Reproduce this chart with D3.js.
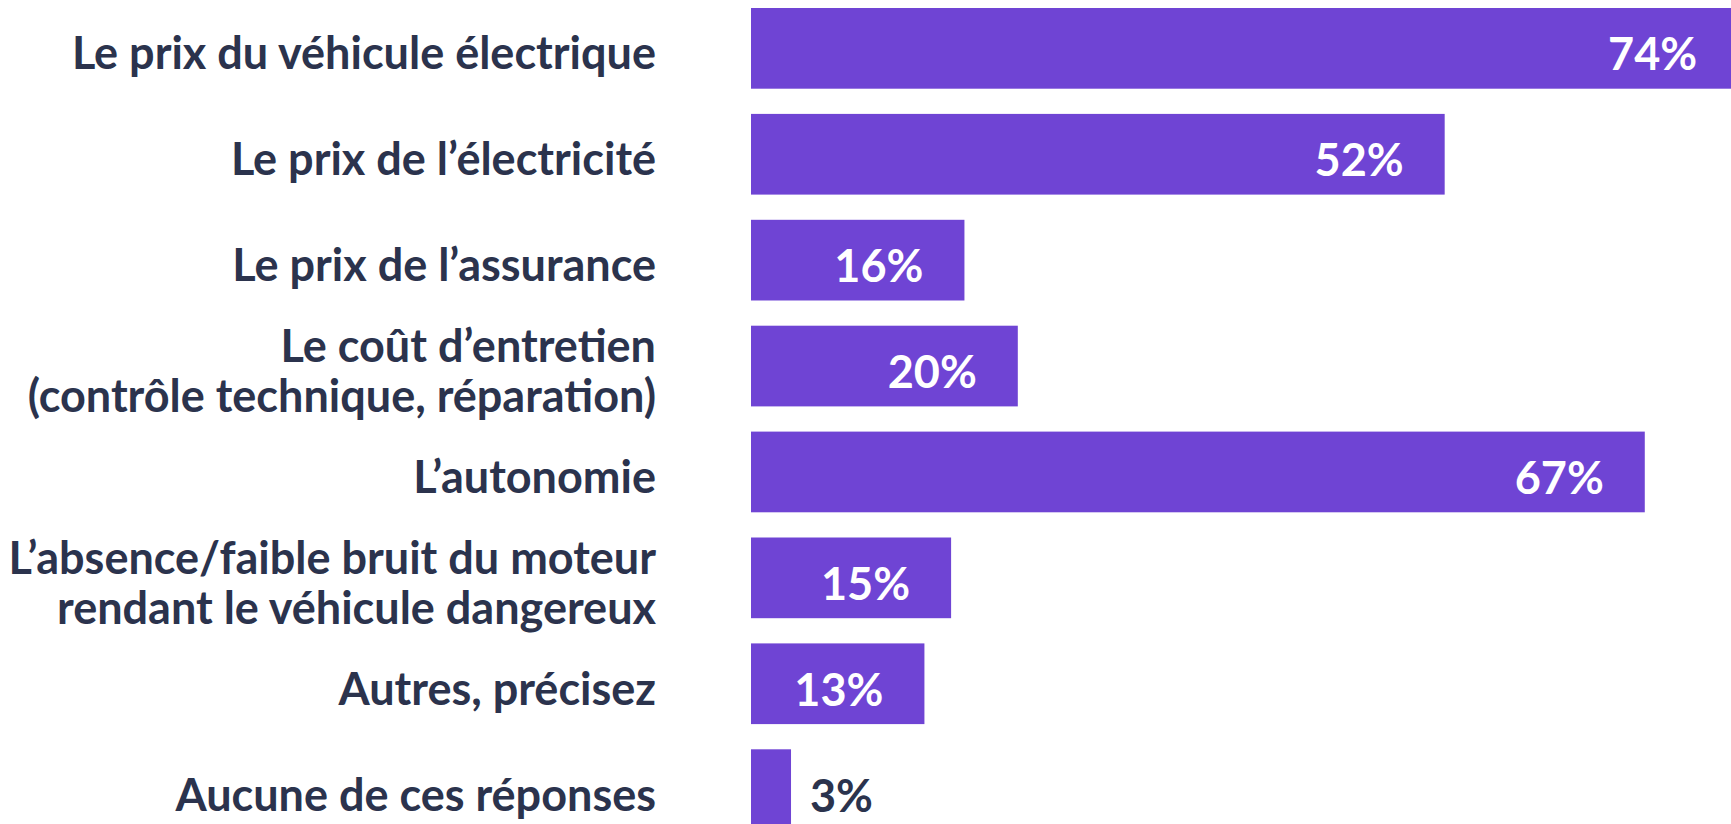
<!DOCTYPE html>
<html>
<head>
<meta charset="utf-8">
<script src="https://cdn.jsdelivr.net/npm/d3@7"></script>
<style>
  html, body { margin: 0; padding: 0; background: #fff; }
  svg { display: block; }
</style>
</head>
<body>
<svg id="chart" width="1731" height="824"></svg>
<script>
const categories = [
  ["Le prix du véhicule électrique"],
  ["Le prix de l’électricité"],
  ["Le prix de l’assurance"],
  ["Le coût d’entretien", "(contrôle technique, réparation)"],
  ["L’autonomie"],
  ["L’absence/faible bruit du moteur", "rendant le véhicule dangereux"],
  ["Autres, précisez"],
  ["Aucune de ces réponses"]
];
const values = [74, 52, 16, 20, 67, 15, 13, 3];

const barColor = "#6f44d4";
const textColor = "#2b334d";
const font = "Lato, 'Open Sans', sans-serif";

const svg = d3.select("#chart");

const data = values.map((v, i) => ({ key: i, lines: categories[i], value: v }));

const x = d3.scaleLinear()
  .domain([0, 100])
  .range([751, 2085]);

const y = d3.scaleBand()
  .domain(data.map(d => d.key))
  .range([-4.6, 842.6])
  .paddingInner(0.238)
  .paddingOuter(0.119);

// bars
svg.selectAll("rect.bar")
  .data(data)
  .enter()
  .append("rect")
  .attr("class", "bar")
  .attr("x", x(0))
  .attr("y", d => y(d.key))
  .attr("width", d => x(d.value) - x(0))
  .attr("height", y.bandwidth())
  .attr("fill", barColor);

// category labels (right aligned, multi-line)
const lineH = 50;
const labels = svg.selectAll("text.cat")
  .data(data)
  .enter()
  .append("text")
  .attr("class", "cat")
  .attr("text-anchor", "end")
  .attr("font-family", font)
  .attr("font-weight", 700)
  .attr("font-size", 45)
  .attr("fill", textColor);

labels.each(function (d) {
  const c = y(d.key) + y.bandwidth() / 2;
  const n = d.lines.length;
  d3.select(this).selectAll("tspan")
    .data(d.lines)
    .enter()
    .append("tspan")
    .attr("x", 656)
    .attr("y", (l, i) => c + 21 + (i - (n - 1) / 2) * lineH)
    .text(l => l);
});

// value labels: inside the bar, or after it when the bar is too short
svg.selectAll("text.val")
  .data(data)
  .enter()
  .append("text")
  .attr("class", "val")
  .attr("font-family", font)
  .attr("font-weight", 700)
  .attr("font-size", 45)
  .attr("text-anchor", d => d.value < 5 ? "start" : "end")
  .attr("x", d => d.value < 5 ? x(d.value) + 19 : x(d.value) - 41)
  .attr("y", d => y(d.key) + y.bandwidth() / 2 + 22)
  .attr("fill", d => d.value < 5 ? textColor : "#fff")
  .text(d => d.value + "%");
</script>
</body>
</html>
